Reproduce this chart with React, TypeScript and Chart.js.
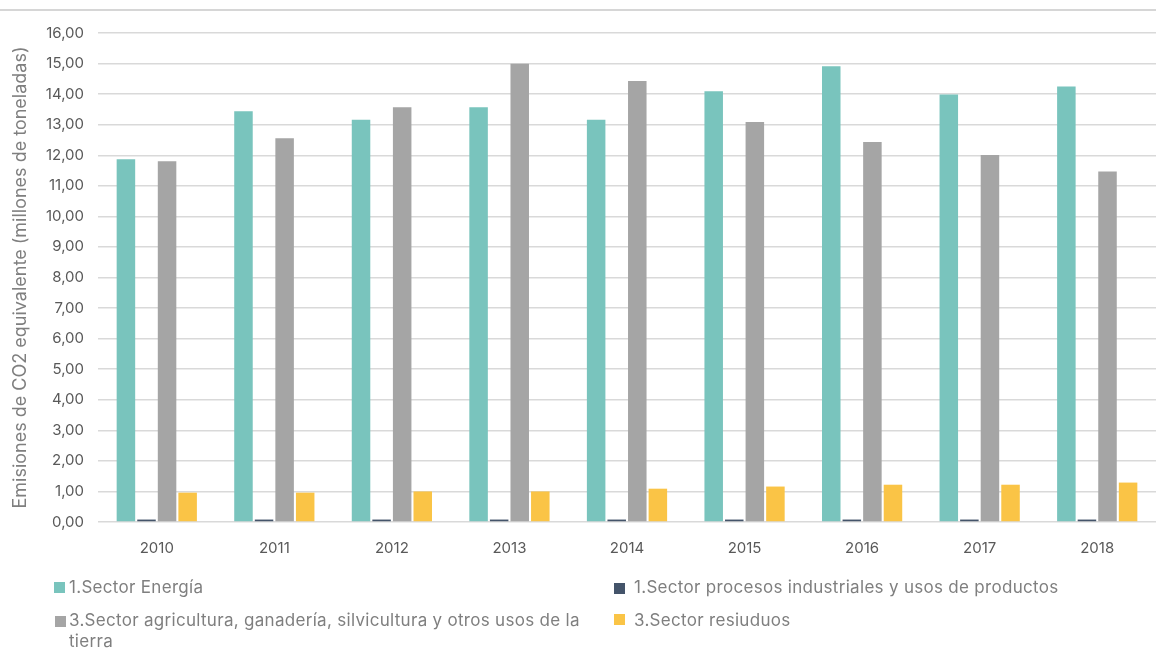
import React, { useEffect, useRef } from "react";
import { Chart, registerables } from "chart.js";

Chart.register(...registerables);

const years = ["2010", "2011", "2012", "2013", "2014", "2015", "2016", "2017", "2018"];
const energia = [11.87, 13.44, 13.16, 13.57, 13.16, 14.09, 14.91, 13.99, 14.25];
const industriales = [0.08, 0.08, 0.08, 0.08, 0.08, 0.08, 0.08, 0.08, 0.08];
const agricultura = [11.8, 12.56, 13.57, 14.99, 14.43, 13.09, 12.43, 12.01, 11.47];
const residuos = [0.96, 0.96, 1.0, 1.0, 1.09, 1.16, 1.22, 1.22, 1.29];

const seriesLabels = [
  "1.Sector Energía",
  "1.Sector procesos industriales y usos de productos",
  "3.Sector agricultura, ganadería, silvicultura y otros usos de la tierra",
  "3.Sector resiuduos",
];
const colors = ["#79C4BD", "#44546A", "#A5A5A5", "#FAC446"];
const yTitle = "Emisiones de CO2 equivalente (millones de toneladas)";

const FONT = "Inter, 'Noto Sans', sans-serif";

const topLine = {
  id: "topLine",
  beforeDraw(chart: any) {
    const ctx = chart.ctx;
    ctx.save();
    ctx.strokeStyle = "#d6d6d6";
    ctx.lineWidth = 2;
    ctx.beginPath();
    ctx.moveTo(0, 10);
    ctx.lineTo(chart.width, 10);
    ctx.stroke();
    ctx.restore();
  },
};

export default function App() {
  const ref = useRef<HTMLCanvasElement>(null);
  useEffect(() => {
    const dataSets = [energia, industriales, agricultura, residuos];
    const chart = new Chart(ref.current!, {
      type: "bar",
      data: {
        labels: years,
        datasets: dataSets.map((d, i) => ({
          label: seriesLabels[i],
          data: d,
          backgroundColor: colors[i],
          borderWidth: 0,
          categoryPercentage: 0.7,
          barPercentage: 0.9,
        })),
      },
      options: {
        responsive: false,
        animation: false,
        layout: { padding: { top: 33, right: 0, bottom: 82, left: 0 } },
        plugins: { legend: { display: false }, tooltip: { enabled: false } },
        scales: {
          x: {
            grid: { display: false },
            border: { display: false },
            ticks: { color: "#595959", font: { family: FONT, size: 15 }, padding: 9 },
          },
          y: {
            min: 0,
            max: 16,
            afterFit(scale: any) {
              scale.width = 98;
            },
            grid: { color: "#d9d9d9", lineWidth: 1.5, drawTicks: false },
            border: { display: false },
            ticks: {
              stepSize: 1,
              color: "#595959",
              font: { family: FONT, size: 15 },
              padding: 14,
              callback: (v: any) => Number(v).toFixed(2).replace(".", ","),
            },
            title: {
              display: true,
              text: yTitle,
              color: "#7f7f7f",
              font: { family: FONT, size: 18 },
              padding: { top: 10, bottom: 4 },
            },
          },
        },
      },
      plugins: [topLine],
    });
    return () => chart.destroy();
  }, []);

  const textStyle: React.CSSProperties = {
    position: "absolute",
    fontFamily: FONT,
    fontSize: 17,
    letterSpacing: "0.3px",
    lineHeight: "21px",
    color: "#7f7f7f",
    whiteSpace: "normal",
  };
  const sq = (left: number, top: number, c: string): React.CSSProperties => ({
    position: "absolute",
    left,
    top,
    width: 11,
    height: 11,
    background: c,
  });

  return (
    <div style={{ position: "fixed", left: 0, top: 0, width: 1156, height: 648, background: "#fff" }}>
      <canvas ref={ref} width={1156} height={648} style={{ position: "absolute", left: 0, top: 0 }} />
      <div style={sq(54, 582, colors[0])} />
      <div style={{ ...textStyle, left: 69, top: 577 }}>{seriesLabels[0]}</div>
      <div style={sq(614, 583, colors[1])} />
      <div style={{ ...textStyle, left: 634, top: 577, whiteSpace: "nowrap" }}>{seriesLabels[1]}</div>
      <div style={sq(55, 616, colors[2])} />
      <div style={{ ...textStyle, left: 69, top: 610, width: 535 }}>{seriesLabels[2]}</div>
      <div style={sq(614, 614, colors[3])} />
      <div style={{ ...textStyle, left: 634, top: 610 }}>{seriesLabels[3]}</div>
    </div>
  );
}
